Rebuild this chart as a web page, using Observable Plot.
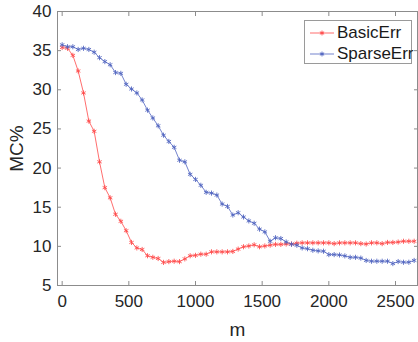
<!DOCTYPE html>
<html><head><meta charset="utf-8">
<script src="https://cdn.jsdelivr.net/npm/d3@7"></script>
<script src="https://cdn.jsdelivr.net/npm/@observablehq/plot@0.6"></script>
<style>
html,body{margin:0;padding:0;background:#fff;font-family:"Liberation Sans",Arial,sans-serif}
#wrap{position:relative;width:418px;height:342px;overflow:hidden}
#legend{position:absolute;left:304px;top:20px;width:108px;height:44px;border:1px solid #9a9a9a;background:#fff;font-size:17px;color:#1a1a1a;box-sizing:border-box}
.row{position:absolute;left:0;height:20px;display:flex;align-items:center}
.row svg{margin-left:5px;margin-right:3px}
</style>
</head><body>
<div id="wrap"><div id="chart"></div><div id="legend"></div></div>
<script>
const seriesNames = ["BasicErr", "SparseErr"];
const seriesColors = ["#ff4a4a", "#5064c0"];
const mValues = [0,40,80,120,160,200,240,280,320,360,400,440,480,520,560,600,640,680,720,760,800,840,880,920,960,1000,1040,1080,1120,1160,1200,1240,1280,1320,1360,1400,1440,1480,1520,1560,1600,1640,1680,1720,1760,1800,1840,1880,1920,1960,2000,2040,2080,2120,2160,2200,2240,2280,2320,2360,2400,2440,2480,2520,2560,2600,2640];
const basicErr = [35.4,35.3,34.4,32.4,29.6,26.0,24.7,20.8,17.5,16.2,14.1,13.2,12.0,10.5,9.8,9.6,8.8,8.6,8.45,7.95,8.05,8.1,8.05,8.4,8.8,8.85,9.0,9.0,9.3,9.3,9.3,9.3,9.35,9.65,9.95,10.05,10.2,9.95,10.05,10.15,10.25,10.25,10.3,10.3,10.4,10.45,10.45,10.45,10.45,10.45,10.45,10.35,10.45,10.45,10.45,10.45,10.35,10.3,10.45,10.45,10.35,10.5,10.5,10.55,10.65,10.65,10.65];
const sparseErr = [35.75,35.5,35.5,35.15,35.3,35.15,34.8,34.1,33.6,33.2,32.2,32.1,30.7,30.1,29.6,28.7,27.4,26.4,25.4,24.2,23.4,22.65,21.0,20.8,19.2,18.55,17.8,16.9,16.8,16.55,15.4,15.1,14.0,14.3,13.75,13.25,12.95,12.2,11.85,10.65,11.1,11.0,10.56,10.27,10.14,9.8,9.7,9.5,9.42,9.38,8.95,8.95,8.9,8.78,8.6,8.6,8.5,8.2,8.1,8.1,8.1,8.1,7.8,8.06,7.97,7.97,8.2];
const xTicks = [0,500,1000,1500,2000,2500];
const yTicks = [5,10,15,20,25,30,35,40];

const data = [];
mValues.forEach((m, i) => {
  data.push({m, v: basicErr[i], s: seriesNames[0]});
  data.push({m, v: sparseErr[i], s: seriesNames[1]});
});
const frameGray = "#8c8c8c";
const noText = () => "";
const plain = d => String(d);
const chart = Plot.plot({
  width: 418, height: 342,
  marginLeft: 57, marginRight: 1, marginTop: 11, marginBottom: 57,
  style: {fontFamily: "Liberation Sans, Arial, sans-serif", fontSize: "17px", color: "#262626", background: "#fff"},
  x: {domain: [-35, 2665]},
  y: {domain: [5, 40]},
  color: {domain: seriesNames, range: seriesColors},
  marks: [
    Plot.frame({stroke: frameGray}),
    Plot.axisX({ticks: xTicks, tickSize: 0, tickPadding: 9, tickFormat: plain, label: null, fontSize: 17}),
    Plot.axisX({ticks: [], tickSize: 0, label: "m", labelAnchor: "center", labelOffset: 50, labelArrow: "none", fontSize: 19}),
    Plot.axisX({anchor: "bottom", ticks: xTicks, tickSize: -4, tickFormat: noText, label: null, stroke: frameGray}),
    Plot.axisX({anchor: "top", ticks: xTicks, tickSize: -4, tickFormat: noText, label: null, stroke: frameGray}),
    Plot.axisY({ticks: yTicks, tickSize: 0, tickPadding: 6, tickFormat: plain, label: null, fontSize: 17}),
    Plot.axisY({ticks: [], tickSize: 0, label: "MC%", labelAnchor: "center", labelOffset: 48, labelArrow: "none", fontSize: 19}),
    Plot.axisY({anchor: "left", ticks: yTicks, tickSize: -4, tickFormat: noText, label: null, stroke: frameGray}),
    Plot.axisY({anchor: "right", ticks: yTicks, tickSize: -4, tickFormat: noText, label: null, stroke: frameGray}),
    Plot.line(data, {x: "m", y: "v", z: "s", stroke: "s", strokeWidth: 1, strokeOpacity: 0.8}),
    Plot.dot(data, {x: "m", y: "v", stroke: "s", symbol: "asterisk", r: 2.4, strokeWidth: 1, strokeOpacity: 0.85})
  ]
});
document.getElementById("chart").appendChild(chart);

const legend = document.getElementById("legend");
seriesNames.forEach((name, i) => {
  const row = document.createElement("div");
  row.className = "row";
  row.style.top = (i === 0 ? 2 : 23) + "px";
  const c = seriesColors[i];
  row.innerHTML = `<svg width="24" height="12"><line x1="0" y1="6" x2="24" y2="6" stroke="${c}" stroke-width="1" stroke-opacity="0.8"/><g stroke="${c}" stroke-width="1"><line x1="12" y1="3.6" x2="12" y2="8.4"/><line x1="9.9" y1="4.8" x2="14.1" y2="7.2"/><line x1="9.9" y1="7.2" x2="14.1" y2="4.8"/></g></svg><span>${name}</span>`;
  legend.appendChild(row);
});
</script>
</body></html>
